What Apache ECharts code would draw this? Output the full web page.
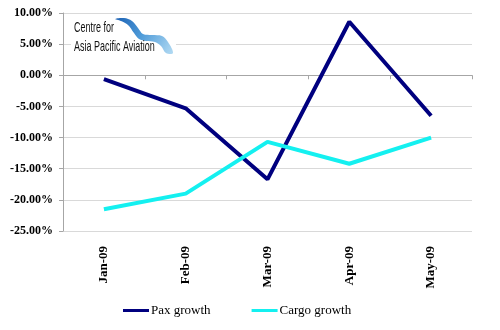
<!DOCTYPE html>
<html>
<head>
<meta charset="utf-8">
<script src="https://cdn.jsdelivr.net/npm/echarts@6/dist/echarts.min.js"></script>
<style>html,body{margin:0;padding:0;background:#fff}#c{width:500px;height:330px}</style>
</head>
<body>
<div id="c"></div>
<script>
const categories = ['Jan-09', 'Feb-09', 'Mar-09', 'Apr-09', 'May-09'];
const paxGrowth = [-0.6, -5.3, -16.7, 8.6, -6.5];
const cargoGrowth = [-21.5, -19.0, -10.7, -14.2, -10.0];
const yMin = -25, yMax = 10, yStep = 5;

const chart = echarts.init(document.getElementById('c'), null, {renderer: 'canvas'});
const serif = '"Liberation Serif", "DejaVu Serif", serif';
const logoFont = '15px "Liberation Sans", Arial, sans-serif';
chart.setOption({
  animation: false,
  grid: {left: 63, right: 28, top: 13, bottom: 99},
  legend: {
    left: 123, top: 304, padding: 0,
    icon: 'rect', itemWidth: 26, itemHeight: 3, itemGap: 41,
    textStyle: {fontFamily: serif, fontSize: 13, color: '#000', padding: [0,0,0,-3]},
    data: ['Pax growth', 'Cargo growth']
  },
  xAxis: [{
    type: 'category', data: categories, position: 'bottom',
    axisLine: {show: false, onZero: false}, axisTick: {show: false},
    axisLabel: {rotate: 90, margin: 15, fontFamily: serif, fontWeight: 'bold', fontSize: 13, color: '#000'}
  }, {
    type: 'category', data: categories, position: 'top',
    axisLine: {show: true, onZero: true, lineStyle: {color: '#a6a6a6', width: 1}},
    axisTick: {show: true, inside: true, length: 4, lineStyle: {color: '#a6a6a6'}},
    axisLabel: {show: false}
  }],
  yAxis: {
    type: 'value', min: yMin, max: yMax, interval: yStep,
    axisLine: {show: true, lineStyle: {color: '#a6a6a6'}},
    axisTick: {show: true, length: 4, lineStyle: {color: '#a6a6a6'}},
    splitLine: {lineStyle: {color: '#d9d9d9', width: 1}},
    axisLabel: {margin: 10, fontFamily: serif, fontWeight: 'bold', fontSize: 12, color: '#000',
      formatter: v => v.toFixed(2) + '%'}
  },
  graphic: [{
    type: 'rect', z: 100,
    shape: {x: 71, y: 15, width: 105, height: 41},
    style: {fill: '#fff'}
  }, {
    type: 'polygon', z: 101,
    shape: {smooth: 0.35, points: [[115,19],[124,18],[132,21],[138,28],[143,34],[152,35],[162,36],[168,42],[173,53],[166,53],[161,46],[155,42],[146,41],[139,39],[134,33],[128,25],[121,21]]},
    style: {fill: {type: 'linear', x: 0, y: 0, x2: 1, y2: 1, colorStops: [{offset: 0, color: '#1d62b4'}, {offset: 0.45, color: '#4d9ad8'}, {offset: 1, color: '#b3dbf3'}]}}
  }, {
    type: 'text', z: 102, x: 74, y: 20, scaleX: 0.6,
    style: {text: 'Centre for', font: logoFont, fill: '#111', x: 0, y: 0, verticalAlign: 'top'}
  }, {
    type: 'text', z: 102, x: 74, y: 39, scaleX: 0.6,
    style: {text: 'Asia Pacific Aviation', font: logoFont, fill: '#111', x: 0, y: 0, verticalAlign: 'top'}
  }],
  series: [{
    name: 'Pax growth', type: 'line', data: paxGrowth, xAxisIndex: 0,
    symbol: 'none', lineStyle: {width: 4, color: '#00007f'}, itemStyle: {color: '#00007f'}
  }, {
    name: 'Cargo growth', type: 'line', data: cargoGrowth, xAxisIndex: 0,
    symbol: 'none', lineStyle: {width: 4, color: '#14f0f0'}, itemStyle: {color: '#14f0f0'}
  }]
});
</script>
</body>
</html>
